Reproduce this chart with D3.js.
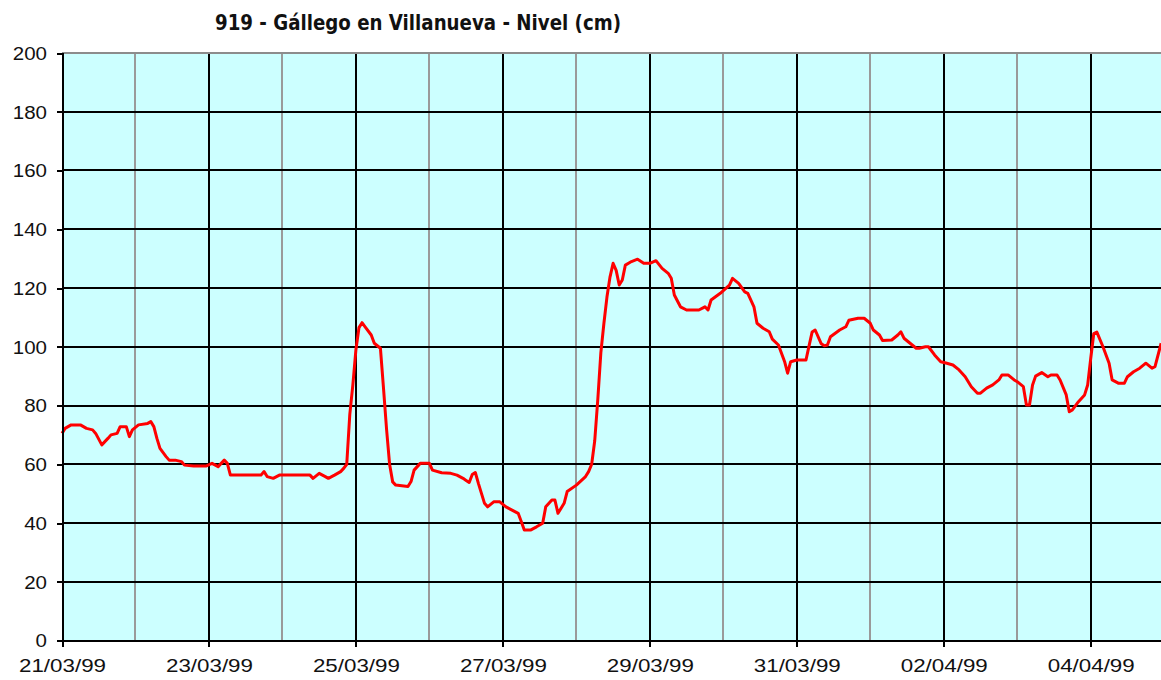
<!DOCTYPE html>
<html>
<head>
<meta charset="utf-8">
<script src="https://cdn.jsdelivr.net/npm/d3@7"></script>
<style>
  html, body { margin: 0; padding: 0; background: #ffffff; }
  svg { display: block; }
</style>
</head>
<body>
<svg id="chart" width="1161" height="680"></svg>
<script>
// Station 919 – river level readings (cm), hours counted from 21/03/99 00:00
const chartTitle = "919 - Gállego en Villanueva - Nivel (cm)";
const seriesStart = new Date(1999, 2, 21, 0, 0);
const seriesEnd = new Date(1999, 3, 5, 0, 0);

const readingHour = [
  0, 1, 3, 6, 8, 10, 11, 13, 15, 16, 18, 19, 21, 22, 23, 25, 28, 29, 30, 31,
  32, 34, 35, 37, 39, 40, 43, 47, 49, 51, 53, 54, 55, 65, 66, 67, 69, 71, 81, 82,
  84, 86, 87, 89, 91, 92, 93, 94, 95, 96, 97, 98, 99, 101, 102, 104, 105, 106, 107, 108,
  109, 113, 114, 115, 117, 120, 121, 124, 127, 129, 131, 132, 133, 134, 135, 136, 137, 138, 139, 141,
  143, 145, 147, 149, 150, 151, 153, 155, 157, 158, 160, 161, 162, 164, 165, 168, 171, 172, 173, 174,
  175, 176, 177, 178, 179, 180, 181, 182, 183, 184, 186, 188, 190, 192, 194, 196, 198, 199, 200, 202,
  204, 208, 210, 211, 212, 215, 218, 219, 221, 223, 224, 226, 227, 229, 231, 232, 234, 236, 237, 238,
  240, 243, 244, 245, 246, 248, 249, 250, 251, 254, 256, 257, 260, 262, 264, 265, 267, 268, 271, 273,
  274, 275, 277, 279, 280, 282, 283, 285, 287, 289, 291, 293, 295, 297, 299, 300, 302, 304, 306, 307,
  309, 311, 312, 314, 315, 316, 317, 318, 320, 322, 323, 325, 326, 328, 329, 330, 332, 334, 335, 336,
  337, 338, 340, 342, 343, 345, 347, 348, 350, 352, 354, 356, 357, 359
];

const levelCm = [
  70.5, 72.2, 73.4, 73.4, 72.2, 71.7, 70.5, 66.6, 68.8, 70.0, 70.5, 72.8, 72.8, 69.4, 71.7, 73.4, 73.9, 74.5, 72.8, 68.8,
  65.4, 62.6, 61.4, 61.4, 60.9, 59.7, 59.4, 59.4, 60.3, 59.2, 61.4, 60.3, 56.3, 56.3, 57.5, 55.8, 55.2, 56.3, 56.3, 55.2,
  56.9, 55.8, 55.2, 56.3, 57.5, 58.6, 60.0, 77.0, 87.0, 99.0, 106.5, 108.2, 106.8, 104.0, 101.2, 99.5, 86.0, 72.0, 60.0, 54.0,
  52.9, 52.4, 54.1, 58.0, 60.3, 60.3, 58.0, 57.1, 56.9, 56.3, 55.2, 54.5, 53.8, 56.5, 57.2, 53.5, 50.1, 46.7, 45.5, 47.2,
  47.2, 45.5, 44.4, 43.3, 40.5, 37.6, 37.6, 38.7, 39.9, 45.5, 47.8, 47.8, 43.3, 46.7, 50.7, 52.9, 55.8, 57.5, 60.0, 68.0,
  82.0, 98.0, 108.0, 117.0, 123.8, 128.4, 126.0, 121.0, 122.7, 127.8, 129.0, 129.8, 128.4, 128.4, 129.3, 126.7, 125.0, 123.3, 117.6, 113.6,
  112.5, 112.5, 113.6, 112.5, 115.9, 118.2, 121.0, 123.3, 121.6, 118.7, 118.2, 113.6, 108.0, 106.3, 105.1, 102.6, 100.6, 95.0, 91.0, 94.9,
  95.5, 95.5, 100.3, 105.0, 105.7, 101.0, 100.3, 100.6, 103.4, 105.7, 106.8, 109.0, 109.7, 109.7, 108.0, 105.7, 104.0, 102.1, 102.3, 104.0,
  105.1, 102.9, 101.2, 99.5, 99.5, 100.0, 100.0, 97.2, 94.9, 94.4, 93.8, 92.1, 89.8, 86.4, 84.2, 84.2, 85.9, 87.0, 88.7, 90.4,
  90.4, 88.7, 88.1, 86.4, 80.2, 80.2, 87.0, 90.0, 91.2, 89.8, 90.4, 90.4, 88.7, 83.6, 77.9, 78.5, 81.3, 83.6, 87.0, 96.0,
  104.5, 105.0, 100.0, 94.4, 88.7, 87.6, 87.6, 89.8, 91.5, 92.7, 94.4, 92.7, 93.2, 101.2
];

const yTickValues = [0, 20, 40, 60, 80, 100, 120, 140, 160, 180, 200];
const xTickLabels = ["21/03/99", "23/03/99", "25/03/99", "27/03/99", "29/03/99", "31/03/99", "02/04/99", "04/04/99"];

const svg = d3.select("#chart");
const plot = { left: 62, right: 1164.2, top: 53, bottom: 640.5 };

const x = d3.scaleTime().domain([seriesStart, seriesEnd]).range([plot.left, plot.right]);
const y = d3.scaleLinear().domain([0, 200]).range([plot.bottom, plot.top]);

const parseLabel = d3.timeParse("%d/%m/%y");
const majorDates = xTickLabels.map(parseLabel);
const allDays = d3.timeDay.range(seriesStart, d3.timeDay.offset(seriesEnd, 1));

const data = readingHour.map((h, i) => ({
  t: d3.timeHour.offset(seriesStart, h),
  v: levelCm[i]
}));

// plot background
svg.append("rect")
  .attr("x", plot.left).attr("y", plot.top)
  .attr("width", plot.right - plot.left).attr("height", plot.bottom - plot.top)
  .attr("fill", "#ccffff");

// daily vertical grid: black on labelled days, grey on the others
const isMajor = d => majorDates.some(m => +m === +d);
svg.append("g").selectAll("line")
  .data(allDays.filter(d => d > seriesStart))
  .join("line")
  .attr("x1", d => Math.round(x(d))).attr("x2", d => Math.round(x(d)))
  .attr("y1", plot.top).attr("y2", plot.bottom)
  .attr("stroke", d => isMajor(d) ? "#000000" : "#9a9a9a")
  .attr("stroke-width", 2)
  .attr("shape-rendering", "crispEdges");

// horizontal grid every 20 cm
svg.append("g").selectAll("line")
  .data(yTickValues.filter(v => v > 0))
  .join("line")
  .attr("x1", plot.left).attr("x2", plot.right)
  .attr("y1", d => Math.round(y(d))).attr("y2", d => Math.round(y(d)))
  .attr("stroke", d => d === 200 ? "#8c8c8c" : "#000000")
  .attr("stroke-width", 2)
  .attr("shape-rendering", "crispEdges");

// level series
const line = d3.line().x(d => x(d.t)).y(d => y(d.v));
svg.append("path")
  .datum(data)
  .attr("fill", "none")
  .attr("stroke", "#ff0000")
  .attr("stroke-width", 3)
  .attr("stroke-linejoin", "round")
  .attr("d", line);

// y axis
const yAxis = svg.append("g")
  .attr("transform", `translate(${plot.left},0)`)
  .call(d3.axisLeft(y).tickValues(yTickValues).tickSize(5).tickPadding(10).tickFormat(d3.format("d")));
yAxis.select(".domain").attr("stroke", "#000").attr("stroke-width", 2).attr("shape-rendering", "crispEdges");
yAxis.selectAll(".tick line").attr("stroke", "#000").attr("stroke-width", 2).attr("shape-rendering", "crispEdges");
yAxis.selectAll(".tick text")
  .attr("font-family", "'Liberation Sans', Arial, sans-serif")
  .attr("font-size", 18)
  .attr("fill", "#111")
  .attr("dy", "0.36em")
  .each(function () {
    const n = this.textContent.length;
    d3.select(this).attr("textLength", 11.4 * n).attr("lengthAdjust", "spacingAndGlyphs");
  });

// x axis
const xAxis = svg.append("g")
  .attr("transform", `translate(0,${plot.bottom})`)
  .call(d3.axisBottom(x).tickValues(majorDates).tickSize(6).tickFormat(d3.timeFormat("%d/%m/%y")));
xAxis.select(".domain").attr("stroke", "#000").attr("stroke-width", 2).attr("shape-rendering", "crispEdges");
xAxis.selectAll(".tick line").attr("stroke", "#000").attr("stroke-width", 2).attr("shape-rendering", "crispEdges");
xAxis.selectAll(".tick text")
  .attr("font-family", "'Liberation Sans', Arial, sans-serif")
  .attr("font-size", 19)
  .attr("fill", "#111")
  .attr("y", 31.5)
  .attr("dy", 0)
  .attr("textLength", 87)
  .attr("lengthAdjust", "spacingAndGlyphs");

// title
svg.append("text")
  .attr("x", 418).attr("y", 29.5)
  .attr("text-anchor", "middle")
  .attr("font-family", "'DejaVu Sans', Verdana, sans-serif")
  .attr("font-weight", "bold")
  .attr("font-size", 21)
  .attr("fill", "#111")
  .attr("textLength", 406)
  .attr("lengthAdjust", "spacingAndGlyphs")
  .text(chartTitle);
</script>
</body>
</html>
